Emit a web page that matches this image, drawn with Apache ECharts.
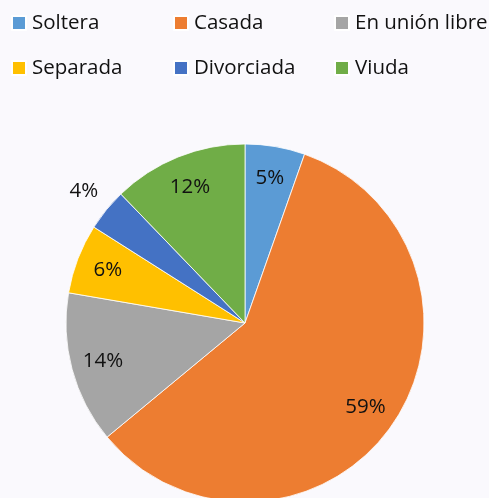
<!DOCTYPE html>
<html>
<head>
<meta charset="utf-8">
<script src="https://cdn.jsdelivr.net/npm/echarts@6/dist/echarts.min.js"></script>
<style>
html,body{margin:0;padding:0;background:#FAF9FD;}
#c{width:489px;height:498px;}
</style>
</head>
<body>
<div id="c"></div>
<script>
const categories = ['Soltera', 'Casada', 'En unión libre', 'Separada', 'Divorciada', 'Viuda'];
const values = [5.4, 58.6, 13.7, 6.3, 3.8, 12.2];
const colors = ['#5B9BD5', '#ED7D31', '#A5A5A5', '#FFC000', '#4472C4', '#70AD47'];
const outsideLabel = ['Divorciada'];

const FONT = '"Open Sans", "Noto Sans", sans-serif';
const total = values.reduce((a, b) => a + b, 0);
const pctFmt = p => Math.round(p.value / total * 100) + '%';

const chart = echarts.init(document.getElementById('c'), null, {renderer: 'canvas'});

const baseData = categories.map((n, i) => ({name: n, value: values[i], itemStyle: {color: colors[i]}}));
const ringData = categories.map((n, i) => ({
  name: n, value: values[i],
  itemStyle: {color: 'rgba(0,0,0,0)', borderWidth: 0},
  label: {show: outsideLabel.indexOf(n) < 0}
}));
const outData = categories.map((n, i) => ({
  name: n, value: values[i],
  itemStyle: {color: 'rgba(0,0,0,0)', borderWidth: 0},
  label: {show: outsideLabel.indexOf(n) >= 0}
}));

const legendCommon = {
  orient: 'vertical', top: 11, padding: 0, itemWidth: 14, itemHeight: 14, icon: 'rect',
  itemGap: 21, selectedMode: false,
  textStyle: {fontFamily: FONT, fontSize: 20.5, color: '#111', lineHeight: 24, padding: [0, 0, 0, 1]}
};

chart.setOption({
  backgroundColor: '#FAF9FD',
  animation: false,
  color: colors,
  legend: [
    Object.assign({left: 11, data: [categories[0], categories[3]]}, legendCommon),
    Object.assign({left: 173, data: [categories[1], categories[4]]}, legendCommon),
    Object.assign({left: 334, data: [categories[2], categories[5]]}, legendCommon)
  ],
  series: [
    {
      type: 'pie', center: [245, 323], radius: [0, 179], startAngle: 90, clockwise: true,
      data: baseData, label: {show: false}, labelLine: {show: false},
      itemStyle: {borderColor: '#ffffff', borderWidth: 0.8}, silent: true
    },
    {
      type: 'pie', center: [245, 323], radius: [109, 179], startAngle: 90, clockwise: true,
      data: ringData, silent: true, legendHoverLink: false,
      label: {position: 'inside', formatter: pctFmt, fontFamily: FONT, fontSize: 20.5, color: '#111'},
      labelLine: {show: false}
    },
    {
      type: 'pie', center: [245, 323], radius: [195, 215], startAngle: 90, clockwise: true,
      data: outData, silent: true, legendHoverLink: false,
      label: {position: 'inside', formatter: pctFmt, fontFamily: FONT, fontSize: 20.5, color: '#111'},
      labelLine: {show: false}
    }
  ]
});
</script>
</body>
</html>
